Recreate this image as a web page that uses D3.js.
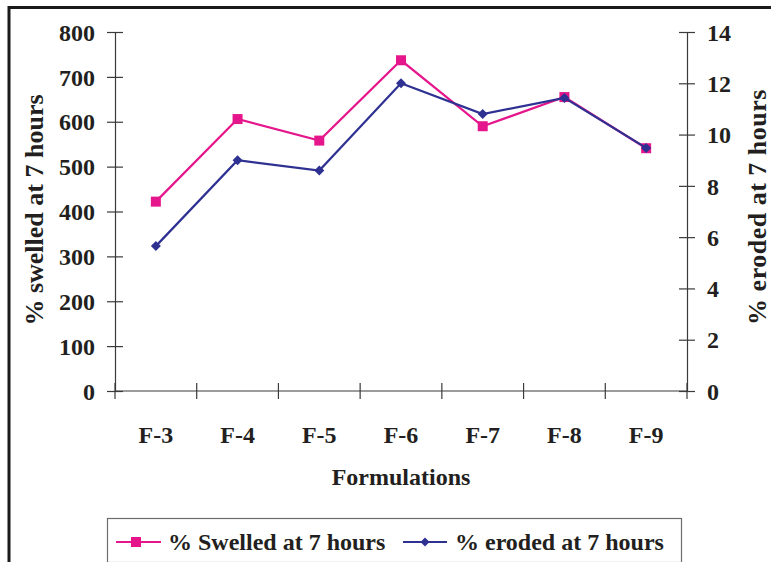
<!DOCTYPE html>
<html>
<head>
<meta charset="utf-8">
<script src="https://cdn.jsdelivr.net/npm/d3@7"></script>
<style>
  html, body { margin: 0; padding: 0; background: #fff; }
  svg { display: block; }
  text { font-family: "Liberation Serif", "Times New Roman", serif; font-weight: bold; fill: #231f20; }
</style>
</head>
<body>
<svg id="chart" width="771" height="562"></svg>
<script>
// Formulations on the x axis
const categories = ["F-3", "F-4", "F-5", "F-6", "F-7", "F-8", "F-9"];
// % swelled at 7 hours (left axis)
const swelled = [422, 606, 558, 737, 590, 655, 541];
// % eroded at 7 hours (right axis)
const eroded = [5.65, 9.0, 8.6, 12.0, 10.8, 11.43, 9.48];
const leftTicks = [0, 100, 200, 300, 400, 500, 600, 700, 800];
const rightTicks = [0, 2, 4, 6, 8, 10, 12, 14];
const seriesNames = ["% Swelled at 7 hours", "% eroded at 7 hours"];

const pink = "#e5168c";
const navy = "#2e3192";
const axisColor = "#3a3a3a";

const svg = d3.select("#chart");
const plot = { left: 115, right: 687, top: 32, bottom: 391 };

// outer frame (top and left edges)
svg.append("path")
  .attr("d", `M9,562 V7.5 H771`)
  .attr("fill", "none")
  .attr("stroke", "#1a1a1a")
  .attr("stroke-width", 3);

const x = d3.scaleBand().domain(categories).range([plot.left, plot.right]);
const yL = d3.scaleLinear().domain([0, 800]).range([plot.bottom, plot.top]);
const yR = d3.scaleLinear().domain([0, 14]).range([plot.bottom, plot.top]);

// axes with ticks crossing the axis line
function styleAxis(g) {
  g.selectAll("path.domain").attr("stroke", axisColor).attr("stroke-width", 1.2);
  g.selectAll(".tick line").attr("stroke", axisColor).attr("stroke-width", 1.2);
  g.selectAll("text").attr("font-size", 24).attr("font-family", "Liberation Serif").attr("font-weight", "bold").attr("fill", "#231f20");
}

const gL = svg.append("g").attr("transform", `translate(${plot.left},0)`)
  .call(d3.axisLeft(yL).tickValues(leftTicks).tickSize(8).tickSizeOuter(0).tickPadding(12));
gL.selectAll(".tick line").attr("x2", 8).attr("x1", -8);
styleAxis(gL);
gL.selectAll("text").attr("dy", "0.34em");

const gR = svg.append("g").attr("transform", `translate(${plot.right},0)`)
  .call(d3.axisRight(yR).tickValues(rightTicks).tickSize(8).tickSizeOuter(0).tickPadding(12));
gR.selectAll(".tick line").attr("x1", -8).attr("x2", 8);
styleAxis(gR);
gR.selectAll("text").attr("dy", "0.34em");

// x axis: ticks at band boundaries, labels at band centres
const gX = svg.append("g").attr("transform", `translate(0,${plot.bottom})`);
gX.append("line").attr("x1", plot.left).attr("x2", plot.right)
  .attr("stroke", axisColor).attr("stroke-width", 1.2);
const boundaries = categories.map(c => x(c)).concat([plot.right]);
gX.selectAll("line.tk").data(boundaries).join("line").attr("class", "tk")
  .attr("x1", d => d).attr("x2", d => d).attr("y1", -8).attr("y2", 8)
  .attr("stroke", axisColor).attr("stroke-width", 1.2);
gX.selectAll("text").data(categories).join("text")
  .attr("x", d => x(d) + x.bandwidth() / 2).attr("y", 52)
  .attr("text-anchor", "middle").attr("font-size", 24).text(d => d);

// axis titles
svg.append("text").attr("x", 401).attr("y", 485).attr("text-anchor", "middle")
  .attr("font-size", 24).text("Formulations");
svg.append("text").attr("transform", "translate(43,210) rotate(-90)").attr("text-anchor", "middle")
  .attr("font-size", 26).text("% swelled at 7 hours");
svg.append("text").attr("transform", "translate(766,207) rotate(-90)").attr("text-anchor", "middle")
  .attr("font-size", 26).attr("letter-spacing", 0.5).text("% eroded at 7 hours");

const cx = d => x(d) + x.bandwidth() / 2;

// swelled line and square markers
svg.append("path").datum(swelled)
  .attr("d", d3.line().x((d, i) => cx(categories[i])).y(d => yL(d)))
  .attr("fill", "none").attr("stroke", pink).attr("stroke-width", 2.2);
svg.selectAll("rect.sw").data(swelled).join("rect").attr("class", "sw")
  .attr("x", (d, i) => cx(categories[i]) - 5).attr("y", d => yL(d) - 5)
  .attr("width", 10).attr("height", 10).attr("fill", pink);

// eroded line and diamond markers
svg.append("path").datum(eroded)
  .attr("d", d3.line().x((d, i) => cx(categories[i])).y(d => yR(d)))
  .attr("fill", "none").attr("stroke", navy).attr("stroke-width", 2.2);
svg.selectAll("path.er").data(eroded).join("path").attr("class", "er")
  .attr("transform", (d, i) => `translate(${cx(categories[i])},${yR(d)}) rotate(45)`)
  .attr("d", d3.symbol().type(d3.symbolSquare).size(50)).attr("fill", navy);

// legend
const lg = svg.append("g");
lg.append("rect").attr("x", 107.5).attr("y", 518.5).attr("width", 574).attr("height", 44)
  .attr("fill", "#fff").attr("stroke", "#6d6d6d").attr("stroke-width", 1.2);
lg.append("line").attr("x1", 116).attr("x2", 161).attr("y1", 542).attr("y2", 542)
  .attr("stroke", pink).attr("stroke-width", 2.2);
lg.append("rect").attr("x", 131).attr("y", 537).attr("width", 10).attr("height", 10).attr("fill", pink);
lg.append("text").attr("x", 168).attr("y", 550).attr("font-size", 24).text(seriesNames[0]);
lg.append("line").attr("x1", 403).attr("x2", 447).attr("y1", 542).attr("y2", 542)
  .attr("stroke", navy).attr("stroke-width", 2.2);
lg.append("path").attr("transform", "translate(425,542) rotate(45)")
  .attr("d", d3.symbol().type(d3.symbolSquare).size(40)).attr("fill", navy);
lg.append("text").attr("x", 455).attr("y", 550).attr("font-size", 24).text(seriesNames[1]);
</script>
</body>
</html>
